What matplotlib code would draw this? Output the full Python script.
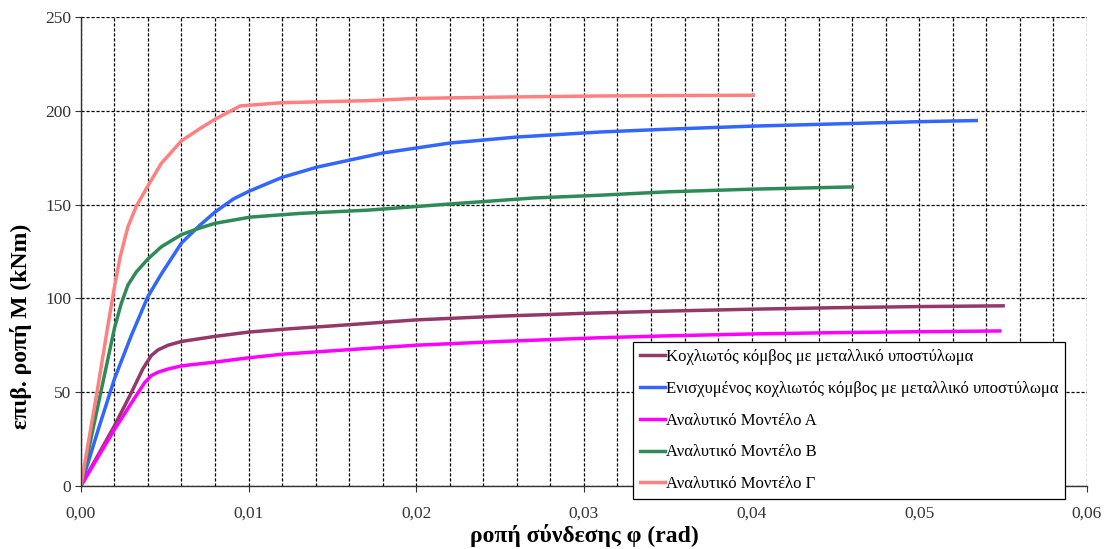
import matplotlib
matplotlib.use("Agg")
import matplotlib.pyplot as plt
from matplotlib.ticker import MultipleLocator, FuncFormatter

plt.rcParams['font.family'] = ['Liberation Serif', 'DejaVu Serif']

# Κοχλιωτός κόμβος με μεταλλικό υποστύλωμα
phi_koxl = [0, 0.001, 0.002, 0.003, 0.0037, 0.0042, 0.0046, 0.0052, 0.006, 0.008, 0.010,
            0.0125, 0.015, 0.020, 0.025, 0.030, 0.035, 0.040, 0.045, 0.050, 0.055]
m_koxl = [0, 16, 32, 49.5, 62.5, 69.5, 72.5, 75, 77, 79.7, 82,
          83.8, 85.3, 88.5, 90.5, 92, 93.2, 94.2, 95, 95.6, 96]

# Ενισχυμένος κοχλιωτός κόμβος
phi_enis = [0, 0.001, 0.002, 0.003, 0.004, 0.0048, 0.006, 0.0071, 0.008, 0.0091, 0.010,
            0.012, 0.0141, 0.018, 0.022, 0.026, 0.031, 0.035, 0.040, 0.045, 0.050, 0.0534]
m_enis = [0, 29, 57, 80, 101, 113, 129.5, 139, 146, 153, 157,
          164.5, 170, 177.5, 182.8, 186, 188.7, 190.2, 191.8, 193, 194.2, 194.8]

# Αναλυτικό Μοντέλο Α
phi_a = [0, 0.001, 0.002, 0.003, 0.0038, 0.0042, 0.0046, 0.0052, 0.006, 0.008, 0.010,
         0.012, 0.0166, 0.020, 0.025, 0.031, 0.035, 0.040, 0.045, 0.050, 0.0548]
m_a = [0, 15, 30, 44, 55, 58.8, 60.6, 62.3, 64, 66, 68.3,
       70.2, 73, 75, 77, 79, 80, 81, 81.7, 82.2, 82.6]

# Αναλυτικό Μοντέλο Β
phi_b = [0, 0.001, 0.0015, 0.002, 0.0024, 0.0028, 0.0033, 0.004, 0.0048, 0.006, 0.0071,
         0.008, 0.0101, 0.0131, 0.0171, 0.022, 0.027, 0.031, 0.035, 0.040, 0.046]
m_b = [0, 42, 63, 84, 97, 107, 114, 121, 127.5, 134, 137.5,
       140, 143.3, 145.3, 147, 150.3, 153.5, 155, 156.8, 158.2, 159.4]

# Αναλυτικό Μοντέλο Γ
phi_g = [0, 0.001, 0.00164, 0.002, 0.00234, 0.0028, 0.0033, 0.004, 0.0048, 0.006, 0.0071,
         0.008, 0.0095, 0.012, 0.0171, 0.020, 0.025, 0.031, 0.035, 0.0401]
m_g = [0, 52, 87, 106, 122, 138, 149, 160, 172, 184, 190.5,
       195.5, 202.6, 204.3, 205.4, 206.6, 207.3, 207.9, 208.1, 208.3]

series = [
    (phi_koxl, m_koxl, '#933869', 'Κοχλιωτός κόμβος με μεταλλικό υποστύλωμα'),
    (phi_enis, m_enis, '#3366FF', 'Ενισχυμένος κοχλιωτός κόμβος με μεταλλικό υποστύλωμα'),
    (phi_a, m_a, '#FF00FF', 'Αναλυτικό Μοντέλο Α'),
    (phi_b, m_b, '#2E8B57', 'Αναλυτικό Μοντέλο Β'),
    (phi_g, m_g, '#FF8080', 'Αναλυτικό Μοντέλο Γ'),
]

fig = plt.figure(figsize=(11.08, 5.49), dpi=100)
ax = fig.add_axes([0.073, 0.115, 0.908, 0.854])

for x, y, c, lab in series:
    ax.plot(x, y, color=c, lw=2.5, label=lab, solid_joinstyle='round')

ax.set_xlim(0, 0.06)
ax.set_ylim(0, 250)
ax.xaxis.set_major_locator(MultipleLocator(0.01))
ax.xaxis.set_minor_locator(MultipleLocator(0.002))
ax.yaxis.set_major_locator(MultipleLocator(50))
ax.xaxis.set_major_formatter(FuncFormatter(lambda v, p: f"{v:.2f}".replace('.', ',')))
ax.yaxis.set_major_formatter(FuncFormatter(lambda v, p: f"{v:.0f}"))

ax.grid(True, which='both', axis='x', color='black', lw=0.9, linestyle=(0, (2.5, 1.5)))
ax.grid(True, which='major', axis='y', color='black', lw=0.9, linestyle=(0, (2.5, 1.5)))
ax.set_axisbelow(True)

for s in ['top', 'right']:
    ax.spines[s].set_visible(False)
for s in ['left', 'bottom']:
    ax.spines[s].set_color('#333333')
    ax.spines[s].set_linewidth(1.0)

ax.tick_params(axis='both', which='major', labelsize=12.5, length=4, colors='#333333')
ax.tick_params(axis='x', which='minor', length=0)
ax.tick_params(axis='x', pad=10)
ax.tick_params(axis='y', pad=3)

ax.set_xlabel('ροπή σύνδεσης φ (rad)', fontsize=17, fontweight='bold', labelpad=2)
ax.set_ylabel('επιβ. ροπή M (kNm)', fontsize=17, fontweight='bold')
# the reference places the y label below the axis centre
ax.yaxis.set_label_coords(-0.049, 0.341)

leg = ax.legend(loc='lower left', bbox_to_anchor=(0.549, -0.028), fontsize=12,
                frameon=True, fancybox=False, edgecolor='black', framealpha=1,
                handlelength=1.5, handletextpad=0.05, labelspacing=0.95,
                borderpad=0.4, borderaxespad=0)
leg.get_frame().set_linewidth(0.9)
leg.set_zorder(5)
for h in leg.get_lines():
    h.set_linewidth(2.5)

fig.savefig('out.png', dpi=100)
